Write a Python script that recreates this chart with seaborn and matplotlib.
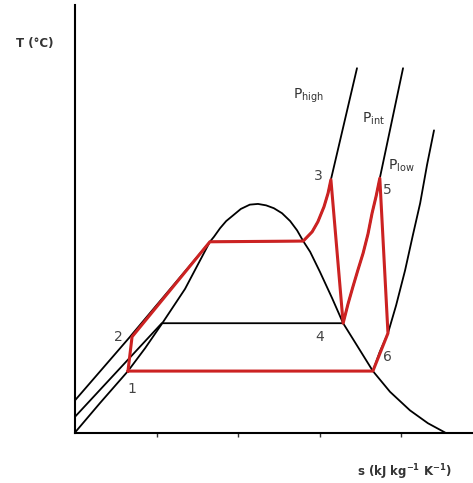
import matplotlib
matplotlib.use('Agg')
import matplotlib.pyplot as plt
import seaborn as sns

# saturation dome (s, T)
dome_s = [0.0, 0.61, 1.30, 1.72, 2.13, 2.70, 3.31, 3.41, 3.56, 3.71, 3.88, 4.07, 4.29, 4.49,
          4.69, 4.88, 5.08, 5.28, 5.45, 5.60, 5.77, 6.01, 6.31, 6.58, 6.94, 7.31, 7.73,
          8.22, 8.66, 9.08]
dome_T = [0, 41, 86, 118, 152, 201, 267, 274, 286, 296, 304, 313, 319, 320,
          318, 314, 307, 296, 283, 268, 253, 225, 188, 153, 120, 86, 57,
          31, 13, 0]

# isobars
p_high_s = [0.0, 1.35, 3.31, 5.60, 5.82, 5.96, 6.11, 6.21, 6.28, 6.60, 6.92]
p_high_T = [45, 134, 267, 268, 281, 295, 316, 335, 354, 432, 510]

p_int_s = [0.0, 2.13, 6.58, 6.70, 6.82, 6.94, 7.07, 7.19, 7.29, 7.39, 7.48, 8.05]
p_int_T = [22, 153, 153, 180, 204, 227, 251, 278, 307, 331, 356, 510]

p_low_s = [7.31, 7.48, 7.68, 7.88, 8.10, 8.29, 8.47, 8.64, 8.81]
p_low_T = [86, 113, 139, 178, 227, 276, 321, 375, 423]

# reheat Rankine cycle path 1-2-3-4-5-6-1
cycle_s = [1.30, 1.40, 3.31, 5.60, 5.82, 5.96, 6.11, 6.21, 6.28, 6.58, 6.70, 6.82, 6.94,
           7.07, 7.19, 7.29, 7.39, 7.48, 7.68, 7.31, 1.30]
cycle_T = [86, 134, 267, 268, 281, 295, 316, 335, 354, 153, 180, 204, 227,
           251, 278, 307, 331, 356, 139, 86, 86]

state_labels = ['1', '2', '3', '4', '5', '6']
state_s = [1.40, 1.06, 5.96, 6.01, 7.66, 7.66]
state_T = [61, 134, 359, 134, 339, 106]

p_labels = [r'P$_{\rm high}$', r'P$_{\rm int}$', r'P$_{\rm low}$']
p_label_s = [5.35, 7.04, 7.68]
p_label_T = [471, 439, 374]

sns.set_style('white')
fig = plt.figure(figsize=(4.73, 4.83), dpi=100)
ax = fig.add_axes([75 / 473, 1 - 432.5 / 483, 398 / 473, 427.5 / 483])

kw = dict(sort=False, estimator=None, ax=ax, legend=False)
sns.lineplot(x=dome_s, y=dome_T, color='black', lw=1.3, **kw)
sns.lineplot(x=p_high_s, y=p_high_T, color='black', lw=1.3, **kw)
sns.lineplot(x=p_int_s, y=p_int_T, color='black', lw=1.3, **kw)
sns.lineplot(x=p_low_s, y=p_low_T, color='black', lw=1.3, **kw)
sns.lineplot(x=cycle_s, y=cycle_T, color='#cc2222', lw=2.2, **kw)

for lab, s, t in zip(state_labels, state_s, state_T):
    ax.text(s, t, lab, fontsize=10, color='#444444', ha='center', va='center')
for lab, s, t in zip(p_labels, p_label_s, p_label_T):
    ax.text(s, t, lab, fontsize=10, color='#333333', ha='left', va='center')

ax.set_xlim(0, 398 / 40.75)
ax.set_ylim(0, 427.5 * 1.4)
ax.set_xticks([2, 4, 6, 8])
ax.set_xticklabels([])
ax.set_yticks([])
ax.tick_params(axis='x', bottom=True, direction='out', length=3, width=1, color='#333333')
for side in ['top', 'right']:
    ax.spines[side].set_visible(False)
for side in ['left', 'bottom']:
    ax.spines[side].set_color('black')
    ax.spines[side].set_linewidth(1.5)

fig.text(35 / 473, 1 - 43 / 483, 'T (°C)', fontsize=8.5, fontweight='bold',
         color='#333333', ha='center', va='center')
fig.text(404 / 473, 1 - 472 / 483, r's (kJ kg$^{\mathbf{-1}}$ K$^{\mathbf{-1}}$)', fontsize=8.5,
         fontweight='bold', color='#333333', ha='center', va='center')

fig.savefig('out.png', dpi=100)
